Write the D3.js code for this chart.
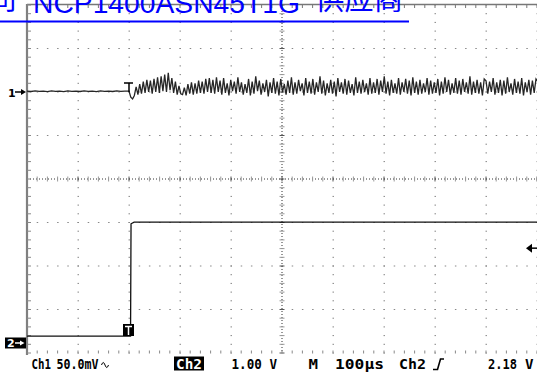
<!DOCTYPE html>
<html><head><meta charset="utf-8">
<script src="https://cdn.jsdelivr.net/npm/d3@7/dist/d3.min.js"></script>
<style>html,body{margin:0;padding:0;background:#fff;overflow:hidden}svg{display:block}</style>
</head><body>
<svg id="c" width="537" height="375"></svg>
<script>
// ---- data ----
const timeDomain = [-200, 800];          // µs, 100 µs/div, trigger at 0
const divDomain = [-4, 4];               // vertical divisions
const ch1Offset = 2.0;                   // divisions (ground marker "1")
const ch1Scale = 50;                     // mV/div
const ch2Offset = -3.77;                 // divisions (ground marker "2")
const ch2Scale = 1;                      // V/div
const triggerLevel = 2.18;               // V on Ch2
const ch1PreStep = 8;                    // µs between pre-trigger samples
const ch1PostStep = 3.5;                 // µs between post-trigger samples

// Ch1 pre-trigger (from -200 µs), mV
const ch1Pre = [1,0.6,1.2,0.7,1.1,0.5,1.2,0.8,1.0,0.5,1.3,0.7,1.1,0.6,1.2,0.8,1.0,0.5,1.2,0.7,1.1,0.6,1.3,0.8,1.0];
// Ch1 post-trigger (from 0 µs), mV
const ch1Post = [
 1,-6,-8,-4,6,-3,9,-2,12,-1,14,0,13,-2,15,
 0,17,-1,18,1,20,0,22,2,16,-1,12,-3,7,-2,
 -3,5,-4,9,-2,11,-3,10,-2,13,-1,12,-2,15,0,16,-1,14,-2,17,
 0,13,-3,16,-1,10,-4,14,1,12,-2,17,0,11,-3,9,-1,15,-4,12,-2,18,1,13,-3,10,0,14,-5,11,
 -1,16,-2,12,-4,15,0,9,-3,13,-1,17,-3,11,-2,14,1,10,-4,16,-1,12,-2,15,-3,11,0,18,-2,13,
 -4,10,-1,14,-2,12,-5,16,0,11,-2,15,-3,13,-1,9,-4,17,-1,12,-2,14,0,10,-3,16,-2,11,-1,15,
 -3,13,0,18,-2,12,-4,14,-1,10,-2,16,-3,11,0,15,-2,13,-4,17,-1,12,-3,14,-2,10,0,16,-3,13,
 -2,11,-1,15,-4,12,-2,17,0,14,-3,10,-1,16,-2,13,-3,15,0,11,-2,18,-3,12,-1,14,-2,11,-4,15,
 13,
 -2,12,0,16,-3,11,-1,14,-4,13,-2,17,0,10,-3,15,-1,12,-2,16,-4,11,0,14,-3,13,-1,15,
 12];
// Ch2 step (µs, V)
const ch2Time = [-200, 3, 4, 10, 800];
const ch2Volt = [0.16, 0.16, 2.74, 2.78, 2.78];

// bottom readout
const readout = [
  {t:"Ch1", x:31.5, w:19.5},
  {t:"50.0mV", x:56.5, w:42},
  {t:"1.00 V", x:231.5, w:45.5},
  {t:"M", x:308.5, w:9.5},
  {t:"100µs", x:335, w:49},
  {t:"Ch2", x:399, w:27},
  {t:"2.18", x:488, w:29},
  {t:"V", x:525, w:8.5}
];

// ---- drawing ----
const svg = d3.select("#c");
const x = d3.scaleLinear().domain(timeDomain).range([27, 537]);
const y = d3.scaleLinear().domain(divDomain).range([353, 5]);

const majorX = d3.range(-200, 801, 100);
const minorX = d3.range(-200, 801, 20);
const majorY = d3.range(-4, 4.001, 1);
const minorY = d3.range(-4, 4.001, 0.2).map(v => Math.round(v*10)/10);

const g = svg.append("g");
majorX.filter(t => t !== -200 && t !== 300).forEach(t => {
  g.selectAll(null).data(minorY).join("rect")
    .attr("x", x(t)-0.5).attr("y", d => y(d)-0.5).attr("width", 1.5).attr("height", 1)
    .attr("fill", "#888");
});
majorY.filter(v => v !== 0 && v !== 4 && v !== -4).forEach(v => {
  g.selectAll(null).data(minorX).join("rect")
    .attr("x", d => x(d)-0.5).attr("y", y(v)-0.5).attr("width", 1.5).attr("height", 1)
    .attr("fill", "#888");
});
g.append("line").attr("x1", x(-200)).attr("x2", x(800)).attr("y1", y(0)).attr("y2", y(0))
  .attr("stroke", "#333").attr("stroke-dasharray", "1,2");
g.selectAll(null).data(minorX).join("line")
  .attr("x1", d => x(d)).attr("x2", d => x(d)).attr("y1", y(0)-2.5).attr("y2", y(0)+2.5)
  .attr("stroke", d => d % 100 === 0 ? "#555" : "#999");
g.append("line").attr("x1", x(300)).attr("x2", x(300)).attr("y1", y(4)).attr("y2", y(-4))
  .attr("stroke", "#333").attr("stroke-dasharray", "1,2");
g.selectAll(null).data(minorY).join("line")
  .attr("y1", d => y(d)).attr("y2", d => y(d)).attr("x1", x(300)-2.5).attr("x2", x(300)+2.5)
  .attr("stroke", d => Number.isInteger(d) ? "#555" : "#999");
g.append("line").attr("x1", x(-200)).attr("x2", x(800)).attr("y1", 4.5).attr("y2", 4.5)
  .attr("stroke", "#777").attr("stroke-width", 1.5);
g.selectAll(null).data(minorX).join("line")
  .attr("x1", d => x(d)).attr("x2", d => x(d)).attr("y1", 4.5).attr("y2", 8)
  .attr("stroke", "#777");
g.selectAll(null).data(minorX).join("line")
  .attr("x1", d => x(d)).attr("x2", d => x(d)).attr("y1", y(-4)-2.5).attr("y2", y(-4)+0.5)
  .attr("stroke", "#888");
g.append("line").attr("x1", 27).attr("x2", 27).attr("y1", 4).attr("y2", 355)
  .attr("stroke", "#808080").attr("stroke-width", 2.2);
g.selectAll(null).data(minorY).join("line")
  .attr("y1", d => y(d)).attr("y2", d => y(d)).attr("x1", 27).attr("x2", 31)
  .attr("stroke", "#888");

// ---- traces ----
const ch1Pts = ch1Pre.map((v, i) => [-200 + i*ch1PreStep, v])
  .concat(ch1Post.map((v, i) => [i*ch1PostStep, v]));
const line = d3.line().x(d => x(d[0])).y(d => d[1]);
svg.append("path")
  .attr("d", line(ch1Pts.map(p => [p[0], y(ch1Offset + p[1]/ch1Scale)])))
  .attr("fill", "none").attr("stroke", "#262626").attr("stroke-width", 1.3);
const ch2Pts = ch2Time.map((t, i) => [t, y(ch2Offset + ch2Volt[i]/ch2Scale)]);
svg.append("path").attr("d", line(ch2Pts))
  .attr("fill", "none").attr("stroke", "#111").attr("stroke-width", 1.3);

// ---- markers ----
const y1 = y(ch1Offset), y2 = y(ch2Offset);
svg.append("text").attr("x", 8).attr("y", y1+4.5).text("1")
  .attr("font-family", "DejaVu Sans").attr("font-weight", "bold").attr("font-size", 11);
svg.append("line").attr("x1", 15).attr("x2", 23).attr("y1", y1).attr("y2", y1).attr("stroke", "#000").attr("stroke-width", 1.5);
svg.append("path").attr("d", `M21,${y1-3}L26,${y1}L21,${y1+3}Z`).attr("fill", "#000");

svg.append("rect").attr("x", 5).attr("y", y2-5.5).attr("width", 21).attr("height", 11).attr("fill", "#000");
svg.append("text").attr("x", 7).attr("y", y2+4).text("2")
  .attr("font-family", "DejaVu Sans").attr("font-weight", "bold").attr("font-size", 11).attr("fill", "#fff");
svg.append("line").attr("x1", 15).attr("x2", 22).attr("y1", y2).attr("y2", y2).attr("stroke", "#fff").attr("stroke-width", 1.5);
svg.append("path").attr("d", `M20,${y2-2.5}L24.5,${y2}L20,${y2+2.5}Z`).attr("fill", "#fff");

const xt = x(0);
svg.append("path").attr("d", `M${xt-5},${y1-9}H${xt+4}M${xt},${y1-9}V${y1}`)
  .attr("stroke", "#000").attr("stroke-width", 1.5).attr("fill", "none");
svg.append("rect").attr("x", xt-6).attr("y", 324).attr("width", 11).attr("height", 12).attr("fill", "#000");
svg.append("path").attr("d", `M${xt-4},326.5H${xt+3}M${xt-0.5},326.5V335`)
  .attr("stroke", "#fff").attr("stroke-width", 1.5);

const yl = y(ch2Offset + triggerLevel/ch2Scale);
svg.append("path").attr("d", `M526,${yl}L532,${yl-4.5}L532,${yl+4.5}Z`).attr("fill", "#000");
svg.append("line").attr("x1", 531).attr("x2", 537).attr("y1", yl).attr("y2", yl).attr("stroke", "#000").attr("stroke-width", 1.5);

// ---- readout ----
const fs = 14.5;
svg.append("rect").attr("x", 174).attr("y", 356.5).attr("width", 30).attr("height", 14).attr("fill", "#000");
svg.append("text").attr("x", 176).attr("y", 369).text("Ch2").attr("fill", "#fff")
  .attr("font-family", "DejaVu Sans Mono").attr("font-weight", "bold").attr("font-size", fs)
  .attr("textLength", 26).attr("lengthAdjust", "spacingAndGlyphs");
svg.selectAll(null).data(readout).join("text")
  .attr("x", d => d.x).attr("y", 369).text(d => d.t)
  .attr("textLength", d => d.w).attr("lengthAdjust", "spacingAndGlyphs")
  .attr("font-family", "DejaVu Sans Mono").attr("font-weight", "bold").attr("font-size", fs).attr("fill", "#000");
// AC-coupling sine symbol
svg.append("path").attr("d", "M101.5,365 q1.75,-5 3.5,0 t3.5,0")
  .attr("stroke", "#000").attr("stroke-width", 1).attr("fill", "none");
// rising-edge symbol
svg.append("path").attr("d", "M433,369.5H437.5L440.5,359H444")
  .attr("stroke", "#000").attr("stroke-width", 1.6).attr("fill", "none");

// ---- blue watermark (clipped at the top edge, as in the source image) ----
const wm = svg.append("g").attr("fill", "#0000ff");
wm.append("text").attr("x", 17).attr("y", 10).attr("text-anchor", "end").text("司")
  .attr("font-family", "Noto Sans CJK SC").attr("font-size", 28);
wm.append("text").attr("x", 33).attr("y", 13).text("NCP1400ASN45T1G")
  .attr("font-family", "Liberation Sans").attr("font-size", 28)
  .attr("textLength", 267).attr("lengthAdjust", "spacingAndGlyphs");
wm.append("text").attr("x", 315).attr("y", 10).text("供应商")
  .attr("font-family", "Noto Sans CJK SC").attr("font-size", 28)
  .attr("textLength", 88).attr("lengthAdjust", "spacingAndGlyphs");
wm.append("rect").attr("x", 0).attr("y", 20.5).attr("width", 409).attr("height", 2);
</script>
</body></html>
